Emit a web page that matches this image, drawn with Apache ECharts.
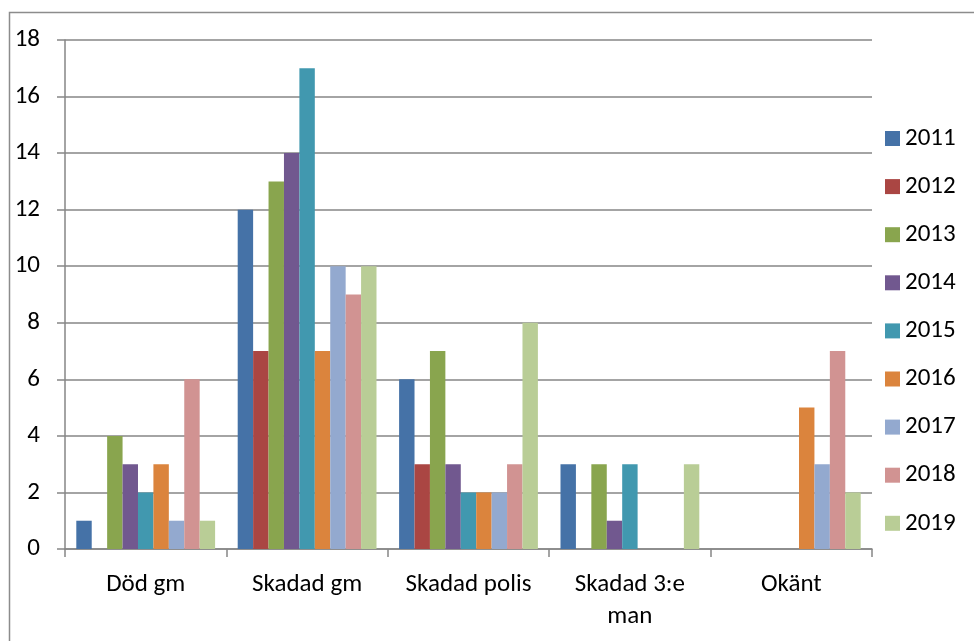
<!DOCTYPE html>
<html><head><meta charset="utf-8">
<script src="https://cdn.jsdelivr.net/npm/echarts@6/dist/echarts.min.js"></script>
<style>html,body{margin:0;padding:0;background:#fff}#c{width:974px;height:641px}</style>
</head><body><div id="c"></div>
<script>
const categories = ['Död gm', 'Skadad gm', 'Skadad polis', 'Skadad 3:e man', 'Okänt'];
const years = ['2011','2012','2013','2014','2015','2016','2017','2018','2019'];
const v2011 = [1, 12, 6, 3, 0];
const v2012 = [0, 7, 3, 0, 0];
const v2013 = [4, 13, 7, 3, 0];
const v2014 = [3, 14, 3, 1, 0];
const v2015 = [2, 17, 2, 3, 0];
const v2016 = [3, 7, 2, 0, 5];
const v2017 = [1, 10, 2, 0, 3];
const v2018 = [6, 9, 3, 0, 7];
const v2019 = [1, 10, 8, 3, 2];
const yTicks = [0, 18, 2];
const colors = ['#4572A7','#AA4643','#89A54E','#71588F','#4198AF','#DB843D','#93A9CF','#D19392','#B9CD96'];
const values = [v2011,v2012,v2013,v2014,v2015,v2016,v2017,v2018,v2019];
const font = 'Calibri, Carlito, Lato, sans-serif';
const chart = echarts.init(document.getElementById('c'), null, {renderer:'canvas'});
chart.setOption({
  animation: false,
  color: colors,
  textStyle: {fontFamily: font},
  graphic: [{type:'rect', shape:{x:9.5, y:12.5, width:1000, height:700}, style:{fill:'none', stroke:'#8c8c8c', lineWidth:1.5}, silent:true}],
  grid: {left: 65, right: 102, top: 40, bottom: 92},
  legend: {
    orient: 'vertical', left: 885, top: 126, itemGap: 23.1, itemWidth: 15, itemHeight: 15, padding: 0,
    icon: 'rect', textStyle: {fontSize: 25, color: '#000', fontFamily: font},
    data: years
  },
  xAxis: {
    type: 'category', data: categories,
    axisLine: {lineStyle: {color: '#868686', width: 1.5}},
    axisTick: {show: true, length: 8, lineStyle: {color: '#868686', width: 1.5}},
    axisLabel: {color: '#000', fontSize: 25, fontFamily: font, margin: 20, lineHeight: 32, interval: 0,
      formatter: v => v === 'Skadad 3:e man' ? 'Skadad 3:e\nman' : v}
  },
  yAxis: {
    type: 'value', min: yTicks[0], max: yTicks[1], interval: yTicks[2],
    axisLine: {show: true, lineStyle: {color: '#868686', width: 1.5}},
    axisTick: {show: true, length: 8, lineStyle: {color: '#868686', width: 1.5}},
    splitLine: {lineStyle: {color: '#868686', width: 1.5}},
    axisLabel: {color: '#000', fontSize: 25, fontFamily: font, margin: 25}
  },
  series: years.map((y, i) => ({
    name: y, type: 'bar', data: values[i], barGap: '0%', barCategoryGap: '14%',
    itemStyle: {color: colors[i]}
  }))
});
</script></body></html>
